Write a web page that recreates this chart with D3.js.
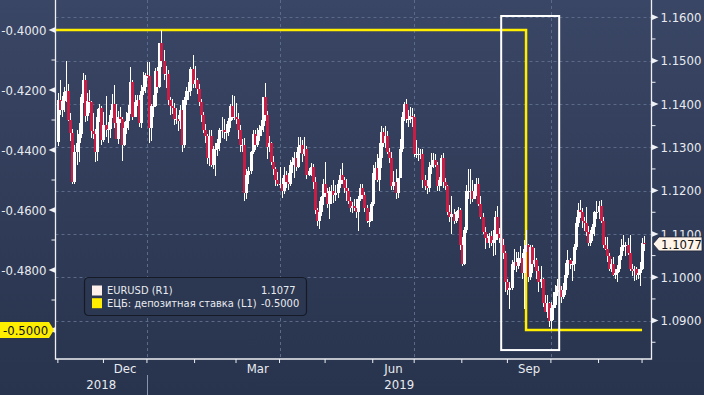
<!DOCTYPE html>
<html>
<head>
<meta charset="utf-8">
<script src="https://cdn.jsdelivr.net/npm/d3@7"></script>
<style>
html, body { margin: 0; padding: 0; background: #2f3b57; overflow: hidden; }
text { font-family: "DejaVu Sans Condensed", "DejaVu Sans", sans-serif; font-stretch: condensed; }
</style>
</head>
<body>
<script>
// EURUSD daily candles, one array per month: [day, open, high, low, close]
var nov18 = [
[1,1.1312,1.1425,1.1302,1.1409],[2,1.1409,1.1456,1.1375,1.1387],[5,1.1387,1.1419,1.1371,1.1406],
[6,1.1406,1.1439,1.1382,1.1427],[7,1.1427,1.1500,1.1405,1.1430],[8,1.1430,1.1446,1.1360,1.1364],
[9,1.1364,1.1380,1.1315,1.1334],[12,1.1334,1.1343,1.1216,1.1219],[13,1.1219,1.1305,1.1216,1.1290],
[14,1.1290,1.1341,1.1260,1.1310],[15,1.1310,1.1355,1.1266,1.1330],[16,1.1330,1.1424,1.1322,1.1416],
[19,1.1416,1.1472,1.1402,1.1455],[20,1.1455,1.1466,1.1358,1.1372],[21,1.1372,1.1425,1.1360,1.1406],
[22,1.1406,1.1433,1.1380,1.1404],[23,1.1404,1.1406,1.1322,1.1338],[26,1.1338,1.1380,1.1318,1.1331],
[27,1.1331,1.1342,1.1267,1.1288],[28,1.1288,1.1389,1.1268,1.1371],[29,1.1371,1.1401,1.1359,1.1390],
[30,1.1390,1.1396,1.1305,1.1316]];
var dec18 = [
[3,1.1316,1.1382,1.1313,1.1352],[4,1.1352,1.1419,1.1323,1.1341],[5,1.1341,1.1358,1.1310,1.1343],
[6,1.1343,1.1387,1.1322,1.1375],[7,1.1375,1.1424,1.1368,1.1400],[10,1.1400,1.1443,1.1345,1.1355],
[11,1.1355,1.1400,1.1319,1.1319],[12,1.1319,1.1383,1.1308,1.1370],[13,1.1370,1.1394,1.1357,1.1365],
[14,1.1365,1.1371,1.1269,1.1306],[17,1.1306,1.1359,1.1303,1.1345],[18,1.1345,1.1381,1.1330,1.1360],
[19,1.1360,1.1397,1.1340,1.1380],[20,1.1380,1.1486,1.1376,1.1450],[21,1.1450,1.1455,1.1364,1.1371],
[24,1.1371,1.1420,1.1370,1.1405],[25,1.1405,1.1420,1.1395,1.1410],[26,1.1410,1.1420,1.1347,1.1355],
[27,1.1355,1.1444,1.1345,1.1430],[28,1.1430,1.1473,1.1420,1.1440],[31,1.1440,1.1472,1.1425,1.1466]];
var jan19 = [
[1,1.1466,1.1497,1.1460,1.1465],[2,1.1465,1.1497,1.1309,1.1345],[3,1.1345,1.1399,1.1315,1.1395],
[4,1.1395,1.1420,1.1370,1.1395],[7,1.1395,1.1483,1.1392,1.1475],[8,1.1475,1.1486,1.1425,1.1440],
[9,1.1440,1.1541,1.1437,1.1540],[10,1.1540,1.1570,1.1485,1.1500],[11,1.1500,1.1525,1.1455,1.1468],
[14,1.1468,1.1487,1.1437,1.1470],[15,1.1470,1.1478,1.1397,1.1410],[16,1.1410,1.1417,1.1374,1.1395],
[17,1.1395,1.1411,1.1376,1.1390],[18,1.1390,1.1403,1.1352,1.1365],[21,1.1365,1.1390,1.1354,1.1365],
[22,1.1365,1.1375,1.1338,1.1360],[23,1.1360,1.1398,1.1343,1.1385],[24,1.1385,1.1410,1.1290,1.1305],
[25,1.1305,1.1415,1.1298,1.1410],[28,1.1410,1.1440,1.1398,1.1430],[29,1.1430,1.1450,1.1408,1.1430],
[30,1.1430,1.1486,1.1418,1.1480],[31,1.1480,1.1514,1.1436,1.1445]];
var feb19 = [
[1,1.1445,1.1488,1.1437,1.1455],[4,1.1455,1.1460,1.1422,1.1435],[5,1.1435,1.1445,1.1396,1.1405],
[6,1.1405,1.1412,1.1359,1.1375],[7,1.1375,1.1382,1.1332,1.1340],[8,1.1340,1.1354,1.1309,1.1325],
[11,1.1325,1.1330,1.1261,1.1275],[12,1.1275,1.1340,1.1257,1.1325],[13,1.1325,1.1341,1.1255,1.1260],
[14,1.1260,1.1304,1.1249,1.1295],[15,1.1295,1.1310,1.1233,1.1295],[18,1.1295,1.1318,1.1280,1.1310],
[19,1.1310,1.1345,1.1292,1.1340],[20,1.1340,1.1371,1.1322,1.1340],[21,1.1340,1.1366,1.1318,1.1335],
[22,1.1335,1.1354,1.1314,1.1335],[25,1.1335,1.1368,1.1325,1.1360],[26,1.1360,1.1400,1.1345,1.1395],
[27,1.1395,1.1420,1.1364,1.1370],[28,1.1370,1.1419,1.1362,1.1370]];
var mar19 = [
[1,1.1370,1.1402,1.1354,1.1365],[4,1.1365,1.1378,1.1319,1.1340],[5,1.1340,1.1352,1.1290,1.1305],
[6,1.1305,1.1319,1.1288,1.1305],[7,1.1305,1.1322,1.1176,1.1195],[8,1.1195,1.1249,1.1180,1.1235],
[11,1.1235,1.1255,1.1216,1.1245],[12,1.1245,1.1292,1.1239,1.1290],[13,1.1290,1.1339,1.1284,1.1330],
[14,1.1330,1.1339,1.1294,1.1305],[15,1.1305,1.1345,1.1300,1.1325],[18,1.1325,1.1351,1.1315,1.1340],
[19,1.1340,1.1362,1.1325,1.1350],[20,1.1350,1.1417,1.1335,1.1415],[21,1.1415,1.1448,1.1360,1.1375],
[22,1.1375,1.1384,1.1273,1.1300],[25,1.1300,1.1325,1.1288,1.1310],[26,1.1310,1.1313,1.1258,1.1265],
[27,1.1265,1.1281,1.1235,1.1250],[28,1.1250,1.1254,1.1211,1.1225],[29,1.1225,1.1244,1.1211,1.1215]];
var apr19 = [
[1,1.1215,1.1255,1.1205,1.1215],[2,1.1215,1.1230,1.1184,1.1200],[3,1.1200,1.1255,1.1193,1.1235],
[4,1.1235,1.1245,1.1205,1.1220],[5,1.1220,1.1241,1.1201,1.1215],[8,1.1215,1.1270,1.1211,1.1260],
[9,1.1260,1.1278,1.1240,1.1265],[10,1.1265,1.1288,1.1229,1.1275],[11,1.1275,1.1288,1.1245,1.1255],
[12,1.1255,1.1323,1.1252,1.1300],[15,1.1300,1.1324,1.1287,1.1305],[16,1.1305,1.1316,1.1266,1.1285],
[17,1.1285,1.1324,1.1280,1.1295],[18,1.1295,1.1302,1.1226,1.1235],[19,1.1235,1.1252,1.1233,1.1245],
[22,1.1245,1.1263,1.1233,1.1255],[23,1.1255,1.1262,1.1204,1.1220],[24,1.1220,1.1231,1.1147,1.1155],
[25,1.1155,1.1160,1.1118,1.1130],[26,1.1130,1.1175,1.1111,1.1150],[29,1.1150,1.1188,1.1142,1.1185],
[30,1.1185,1.1227,1.1167,1.1215]];
var may19 = [
[1,1.1215,1.1265,1.1185,1.1195],[2,1.1195,1.1207,1.1161,1.1170],[3,1.1170,1.1208,1.1135,1.1200],
[6,1.1200,1.1213,1.1168,1.1200],[7,1.1200,1.1224,1.1172,1.1190],[8,1.1190,1.1214,1.1177,1.1195],
[9,1.1195,1.1225,1.1183,1.1215],[10,1.1215,1.1251,1.1207,1.1235],[13,1.1235,1.1264,1.1215,1.1225],
[14,1.1225,1.1231,1.1194,1.1205],[15,1.1205,1.1226,1.1177,1.1200],[16,1.1200,1.1207,1.1168,1.1175],
[17,1.1175,1.1185,1.1150,1.1160],[20,1.1160,1.1173,1.1149,1.1165],[21,1.1165,1.1181,1.1152,1.1160],
[22,1.1160,1.1181,1.1137,1.1150],[23,1.1150,1.1187,1.1107,1.1180],[24,1.1180,1.1215,1.1176,1.1205],
[27,1.1205,1.1216,1.1181,1.1190],[28,1.1190,1.1196,1.1150,1.1160],[29,1.1160,1.1166,1.1126,1.1130],
[30,1.1130,1.1150,1.1116,1.1130],[31,1.1130,1.1174,1.1131,1.1170]];
var jun19 = [
[3,1.1170,1.1260,1.1165,1.1240],[4,1.1240,1.1266,1.1225,1.1253],[5,1.1253,1.1285,1.1220,1.1225],
[6,1.1225,1.1309,1.1200,1.1275],[7,1.1275,1.1348,1.1253,1.1335],[10,1.1335,1.1345,1.1300,1.1310],
[11,1.1310,1.1348,1.1299,1.1325],[12,1.1325,1.1338,1.1285,1.1290],[13,1.1290,1.1299,1.1264,1.1275],
[14,1.1275,1.1290,1.1202,1.1210],[17,1.1210,1.1246,1.1202,1.1220],[18,1.1220,1.1250,1.1181,1.1195],
[19,1.1195,1.1230,1.1182,1.1230],[20,1.1230,1.1318,1.1228,1.1295],[21,1.1295,1.1382,1.1290,1.1370],
[24,1.1370,1.1405,1.1360,1.1400],[25,1.1400,1.1412,1.1356,1.1365],[26,1.1365,1.1387,1.1347,1.1365],
[27,1.1365,1.1393,1.1356,1.1372],[28,1.1372,1.1390,1.1346,1.1370]];
var jul19 = [
[1,1.1370,1.1376,1.1278,1.1285],[2,1.1285,1.1316,1.1275,1.1285],[3,1.1285,1.1298,1.1268,1.1285],
[4,1.1285,1.1296,1.1272,1.1285],[5,1.1285,1.1297,1.1207,1.1225],[8,1.1225,1.1237,1.1202,1.1210],
[9,1.1210,1.1224,1.1193,1.1205],[10,1.1205,1.1265,1.1196,1.1255],[11,1.1255,1.1286,1.1239,1.1260],
[12,1.1260,1.1287,1.1253,1.1270],[15,1.1270,1.1285,1.1255,1.1260],[16,1.1260,1.1266,1.1200,1.1210],
[17,1.1210,1.1232,1.1200,1.1225],[18,1.1225,1.1282,1.1211,1.1275],[19,1.1275,1.1286,1.1206,1.1220],
[22,1.1220,1.1229,1.1201,1.1210],[23,1.1210,1.1212,1.1144,1.1150],[24,1.1150,1.1167,1.1128,1.1140],
[25,1.1140,1.1187,1.1101,1.1145],[26,1.1145,1.1158,1.1124,1.1130],[29,1.1130,1.1153,1.1125,1.1150],
[30,1.1150,1.1162,1.1137,1.1155],[31,1.1155,1.1160,1.1063,1.1075]];
var aug19 = [
[1,1.1075,1.1093,1.1027,1.1030],[2,1.1030,1.1117,1.1029,1.1110],[5,1.1110,1.1212,1.1103,1.1200],
[6,1.1200,1.1250,1.1181,1.1200],[7,1.1200,1.1249,1.1170,1.1200],[8,1.1200,1.1225,1.1173,1.1180],
[9,1.1180,1.1215,1.1183,1.1200],[12,1.1200,1.1230,1.1188,1.1215],[13,1.1215,1.1230,1.1164,1.1170],
[14,1.1170,1.1188,1.1134,1.1140],[15,1.1140,1.1148,1.1101,1.1105],[16,1.1105,1.1116,1.1065,1.1090],
[19,1.1090,1.1100,1.1079,1.1080],[20,1.1080,1.1102,1.1068,1.1095],[21,1.1095,1.1107,1.1073,1.1080],
[22,1.1080,1.1108,1.1050,1.1085],[23,1.1085,1.1153,1.1051,1.1140],[26,1.1140,1.1165,1.1085,1.1100],
[27,1.1100,1.1114,1.1079,1.1090],[28,1.1090,1.1103,1.1065,1.1075],[29,1.1075,1.1089,1.1043,1.1055],
[30,1.1055,1.1061,1.0966,1.0990]];
var sep19 = [
[2,1.0990,1.0997,1.0960,1.0970],[3,1.0970,1.0988,1.0926,1.0975],[4,1.0975,1.1039,1.0970,1.1030],
[5,1.1030,1.1066,1.1016,1.1035],[6,1.1035,1.1058,1.1013,1.1025],[9,1.1025,1.1058,1.1020,1.1045],
[10,1.1045,1.1072,1.1033,1.1045],[11,1.1045,1.1055,1.0996,1.1010],[12,1.1010,1.1087,1.0927,1.1065],
[13,1.1065,1.1110,1.1058,1.1075],[16,1.1075,1.1076,1.0990,1.1000],[17,1.1000,1.1075,1.0993,1.1070],
[18,1.1070,1.1075,1.1009,1.1030],[19,1.1030,1.1068,1.1023,1.1040],[20,1.1040,1.1045,1.0996,1.1015],
[23,1.1015,1.1025,1.0966,1.0990],[24,1.0990,1.1025,1.0976,1.0995],[25,1.0995,1.0998,1.0931,1.0940],
[26,1.0940,1.0960,1.0921,1.0920],[27,1.0920,1.0958,1.0905,1.0940],[30,1.0940,1.0943,1.0885,1.0900]];
var oct19 = [
[1,1.0900,1.0943,1.0879,1.0930],[2,1.0930,1.0965,1.0901,1.0935],[3,1.0935,1.0982,1.0930,1.0965],
[4,1.0965,1.0995,1.0956,1.0980],[7,1.0980,1.1001,1.0959,1.0970],[8,1.0970,1.0981,1.0940,1.0955],
[9,1.0955,1.0987,1.0950,1.0970],[10,1.0970,1.1034,1.0959,1.1005],[11,1.1005,1.1063,1.0999,1.1040],
[14,1.1040,1.1045,1.1019,1.1030],[15,1.1030,1.1037,1.0991,1.1030],[16,1.1030,1.1076,1.1015,1.1070],
[17,1.1070,1.1139,1.1064,1.1125],[18,1.1125,1.1172,1.1117,1.1155],[21,1.1155,1.1179,1.1136,1.1150],
[22,1.1150,1.1160,1.1113,1.1130],[23,1.1130,1.1140,1.1107,1.1125],[24,1.1125,1.1163,1.1096,1.1105],
[25,1.1105,1.1118,1.1072,1.1080],[28,1.1080,1.1109,1.1072,1.1100],[29,1.1100,1.1124,1.1083,1.1115],
[30,1.1115,1.1152,1.1095,1.1150],[31,1.1150,1.1175,1.1135,1.1150]];
var nov19 = [
[1,1.1150,1.1176,1.1135,1.1165],[4,1.1165,1.1179,1.1126,1.1130],[5,1.1130,1.1138,1.1067,1.1075],
[6,1.1075,1.1093,1.1062,1.1065],[7,1.1065,1.1092,1.1036,1.1050],[8,1.1050,1.1055,1.1015,1.1020],
[11,1.1020,1.1043,1.1013,1.1030],[12,1.1030,1.1047,1.1002,1.1005],[13,1.1005,1.1018,1.0996,1.1010],
[14,1.1010,1.1029,1.0989,1.1020],[15,1.1020,1.1052,1.1013,1.1050],[18,1.1050,1.1089,1.1041,1.1070],
[19,1.1070,1.1097,1.1060,1.1075],[20,1.1075,1.1081,1.1050,1.1075],[21,1.1075,1.1091,1.1052,1.1055],
[22,1.1055,1.1097,1.1014,1.1020],[25,1.1020,1.1030,1.1002,1.1015],[26,1.1015,1.1027,1.0992,1.1020],
[27,1.1020,1.1024,1.0993,1.1005],[28,1.1005,1.1018,1.0996,1.1010],[29,1.1010,1.1036,1.0981,1.1020]];
var dec19 = [
[2,1.1020,1.1090,1.1017,1.1080],[3,1.1080,1.1095,1.1061,1.1077]];

var monthArrays = [nov18, dec18, jan19, feb19, mar19, apr19, may19, jun19, jul19, aug19, sep19, oct19, nov19, dec19];
var monthStarts = ['2018-11', '2018-12', '2019-01', '2019-02', '2019-03', '2019-04', '2019-05',
                   '2019-06', '2019-07', '2019-08', '2019-09', '2019-10', '2019-11', '2019-12'];

// ECB deposit rate (step series)
var rateDates = ['2018-11-01', '2019-09-13', '2019-12-02'];
var rateValues = [-0.40, -0.50, -0.50];

var leftTicks = [-0.40, -0.42, -0.44, -0.46, -0.48, -0.50];
var rightTicks = [1.09, 1.10, 1.11, 1.12, 1.13, 1.14, 1.15, 1.16];
var labelledMonths = ['2018-12', '2019-03', '2019-06', '2019-09'];
var gridMonths = ['2019-01', '2019-04', '2019-07', '2019-10'];
var yearLabels = ['2018', '2019'];

// highlighted window around the September cut
var boxDates = ['2019-08-28', '2019-10-07'];
var boxValues = [1.1603, 1.0832];

var legendNames = ['EURUSD (R1)', 'ЕЦБ: депозитная ставка (L1)'];
var legendValues = ['1.1077', '-0.5000'];
var legendColors = ['#fdf0ea', '#ffee00'];

var W = 704, H = 395;
var fmtDay = d3.timeFormat('%Y-%m-%d');
var fmtMonth = d3.timeFormat('%Y-%m');

// flatten into one list of trading days
var candles = [];
monthArrays.forEach(function(rows, k){
	var base = d3.timeParse('%Y-%m')(monthStarts[k]);
	rows.forEach(function(r){
		var dt = new Date(base.getFullYear(), base.getMonth(), r[0]);
		candles.push({date: dt, key: fmtDay(dt), o: r[1], h: r[2], l: r[3], c: r[4], i: candles.length});
	});
});
var dayIndex = {};
candles.forEach(function(d){ dayIndex[d.key] = d.i; });
var firstOfMonth = {};
candles.forEach(function(d){
	var m = fmtMonth(d.date);
	if(firstOfMonth[m] === undefined){ firstOfMonth[m] = d.i; }
});

var x = d3.scaleLinear().domain([-0.9, 286.8]).range([56, 652]);
var yR = d3.scaleLinear().domain([1.16, 1.09]).range([17.3, 320.6]);
var yL = d3.scaleLinear().domain([-0.40, -0.50]).range([30, 330]);
var plotLeft = 55.5, plotRight = 651.5, plotBottom = 359;

var svg = d3.select('body').append('svg')
	.attr('width', W)
	.attr('height', H);

var grad = svg.append('defs').append('linearGradient')
	.attr('id', 'bg').attr('x1', 0).attr('y1', 0).attr('x2', 0).attr('y2', 1);
grad.append('stop').attr('offset', '0%').attr('stop-color', '#3a4665');
grad.append('stop').attr('offset', '100%').attr('stop-color', '#28334d');
svg.append('rect').attr('width', W).attr('height', H).attr('fill', 'url(#bg)');

// grid
var grid = svg.append('g').attr('stroke', '#5b6a88').attr('stroke-width', 1).attr('stroke-dasharray', '3,3');
grid.selectAll('line.h').data(rightTicks).enter().append('line')
	.attr('x1', plotLeft).attr('x2', plotRight)
	.attr('y1', function(d){ return Math.round(yR(d)) + 0.5; })
	.attr('y2', function(d){ return Math.round(yR(d)) + 0.5; });
grid.selectAll('line.v').data(gridMonths).enter().append('line')
	.attr('x1', function(d){ return Math.round(x(firstOfMonth[d])) + 0.5; })
	.attr('x2', function(d){ return Math.round(x(firstOfMonth[d])) + 0.5; })
	.attr('y1', 0).attr('y2', plotBottom);

// ECB rate step line (under the candles)
var ratePts = rateDates.map(function(d, k){ return [x(dayIndex[d]), yL(rateValues[k])]; });
ratePts.unshift([plotLeft, yL(rateValues[0])]);
svg.append('path')
	.attr('d', d3.line().curve(d3.curveStepAfter)(ratePts))
	.attr('fill', 'none').attr('stroke', '#ffee00').attr('stroke-width', 2.5);

// candles
var cg = svg.append('g').attr('shape-rendering', 'crispEdges');
cg.selectAll('line.wick').data(candles).enter().append('line')
	.attr('x1', function(d){ return Math.round(x(d.i)) + 0.5; })
	.attr('x2', function(d){ return Math.round(x(d.i)) + 0.5; })
	.attr('y1', function(d){ return yR(d.h); })
	.attr('y2', function(d){ return yR(d.l); })
	.attr('stroke', '#ffffff').attr('stroke-width', 1);
cg.selectAll('rect.body').data(candles).enter().append('rect')
	.attr('x', function(d){ return Math.round(x(d.i)) - 1; })
	.attr('width', 3)
	.attr('y', function(d){ return yR(Math.max(d.o, d.c)); })
	.attr('height', function(d){ return Math.max(1, Math.abs(yR(d.o) - yR(d.c))); })
	.attr('fill', function(d){ return d.c >= d.o ? '#ffffff' : '#c81d45'; });

// highlight box
var bx0 = x(dayIndex[boxDates[0]]), bx1 = x(dayIndex[boxDates[1]]);
svg.append('rect')
	.attr('x', bx0).attr('y', yR(boxValues[0]))
	.attr('width', bx1 - bx0).attr('height', yR(boxValues[1]) - yR(boxValues[0]))
	.attr('fill', 'none').attr('stroke', '#ffffff').attr('stroke-width', 2);

// axes frame
var axisCol = '#eef0f4';
svg.append('path')
	.attr('d', 'M' + plotLeft + ',0V' + plotBottom + 'H' + plotRight + 'V0')
	.attr('fill', 'none').attr('stroke', axisCol).attr('stroke-width', 1.3);

// left axis
var la = svg.append('g');
la.selectAll('path').data(leftTicks).enter().append('path')
	.attr('d', function(d){ var y = yL(d); return 'M' + plotLeft + ',' + (y - 3) + 'L' + (plotLeft - 7) + ',' + y + 'L' + plotLeft + ',' + (y + 3) + 'Z'; })
	.attr('fill', axisCol);
la.selectAll('line').data(leftTicks.slice(0, -1)).enter().append('line')
	.attr('x1', plotLeft - 4).attr('x2', plotLeft)
	.attr('y1', function(d){ return yL(d - 0.01); })
	.attr('y2', function(d){ return yL(d - 0.01); })
	.attr('stroke', axisCol);
la.selectAll('text').data(leftTicks.slice(0, -1)).enter().append('text')
	.attr('x', plotLeft - 9).attr('y', function(d){ return yL(d); })
	.attr('dy', '0.36em').attr('text-anchor', 'end')
	.attr('font-size', 13).attr('fill', '#e8ebf0')
	.text(function(d){ return d3.format('.4f')(d).replace('−', '-'); });

// right axis
var ra = svg.append('g');
ra.selectAll('path').data(rightTicks).enter().append('path')
	.attr('d', function(d){ var y = yR(d); return 'M' + plotRight + ',' + (y - 3) + 'L' + (plotRight + 7) + ',' + y + 'L' + plotRight + ',' + (y + 3) + 'Z'; })
	.attr('fill', axisCol);
ra.selectAll('line').data(rightTicks).enter().append('line')
	.attr('x1', plotRight).attr('x2', plotRight + 4)
	.attr('y1', function(d){ return yR(d - 0.005); })
	.attr('y2', function(d){ return yR(d - 0.005); })
	.attr('stroke', axisCol);
ra.selectAll('text').data(rightTicks).enter().append('text')
	.attr('x', plotRight + 9).attr('y', function(d){ return yR(d); })
	.attr('dy', '0.36em')
	.attr('font-size', 13).attr('fill', '#e8ebf0')
	.text(function(d){ return d3.format('.4f')(d); });

// bottom axis
var ba = svg.append('g');
ba.selectAll('line').data(monthStarts).enter().append('line')
	.attr('x1', function(d){ return x(firstOfMonth[d]); })
	.attr('x2', function(d){ return x(firstOfMonth[d]); })
	.attr('y1', plotBottom).attr('y2', plotBottom + 4)
	.attr('stroke', axisCol);
ba.selectAll('text.m').data(labelledMonths).enter().append('text')
	.attr('x', function(d){
		var k = monthStarts.indexOf(d);
		return (x(firstOfMonth[d]) + x(firstOfMonth[monthStarts[k + 1]])) / 2;
	})
	.attr('y', 373).attr('text-anchor', 'middle')
	.attr('font-size', 13).attr('fill', '#e8ebf0')
	.text(function(d){ return d3.timeFormat('%b')(d3.timeParse('%Y-%m')(d)); });
var janX = x(firstOfMonth['2019-01']);
ba.append('line')
	.attr('x1', Math.round(janX) + 0.5).attr('x2', Math.round(janX) + 0.5)
	.attr('y1', 375).attr('y2', H)
	.attr('stroke', '#8a93a8');
ba.selectAll('text.y').data(yearLabels).enter().append('text')
	.attr('x', function(d, k){ return k === 0 ? (plotLeft + janX) / 2 : (janX + plotRight) / 2; })
	.attr('y', 389).attr('text-anchor', 'middle')
	.attr('font-size', 13).attr('fill', '#e8ebf0')
	.text(function(d){ return d; });

// last value tags
var ly = yL(rateValues[rateValues.length - 1]);
svg.append('path')
	.attr('d', 'M0,' + (ly - 8) + 'H49L54,' + ly + 'L49,' + (ly + 8) + 'H0Z')
	.attr('fill', '#ffee00');
svg.append('text')
	.attr('x', 3).attr('y', ly).attr('dy', '0.36em')
	.attr('font-size', 13).attr('fill', '#111111')
	.text(legendValues[1]);

var last = candles[candles.length - 1];
var ry = yR(last.c);
svg.append('path')
	.attr('d', 'M653,' + ry + 'L659,' + (ry - 7) + 'H702V' + (ry + 7) + 'H659Z')
	.attr('fill', '#fff4ea').attr('stroke', '#1c2234').attr('stroke-width', 0.8);
svg.append('text')
	.attr('x', 661).attr('y', ry).attr('dy', '0.36em')
	.attr('font-size', 13).attr('fill', '#111111')
	.text(d3.format('.4f')(last.c));

// legend
var lg = svg.append('g').attr('transform', 'translate(84,277)');
lg.append('rect')
	.attr('x', 0.5).attr('y', 0.5).attr('width', 222).attr('height', 38).attr('rx', 4)
	.attr('fill', '#2c3751').attr('stroke', '#151a26').attr('stroke-width', 1.2);
var rows = lg.selectAll('g').data(legendNames).enter().append('g')
	.attr('transform', function(d, k){ return 'translate(0,' + (13.5 + k * 12.7) + ')'; });
rows.append('rect')
	.attr('x', 8).attr('y', -5).attr('width', 10).attr('height', 10)
	.attr('fill', function(d, k){ return legendColors[k]; });
rows.append('text')
	.attr('x', 23).attr('dy', '0.36em')
	.attr('font-size', 11).attr('fill', '#e8ebf0')
	.text(function(d){ return d; });
rows.append('text')
	.attr('x', 177).attr('dy', '0.36em')
	.attr('font-size', 11).attr('fill', '#e8ebf0')
	.text(function(d, k){ return legendValues[k]; });
</script>
</body>
</html>
